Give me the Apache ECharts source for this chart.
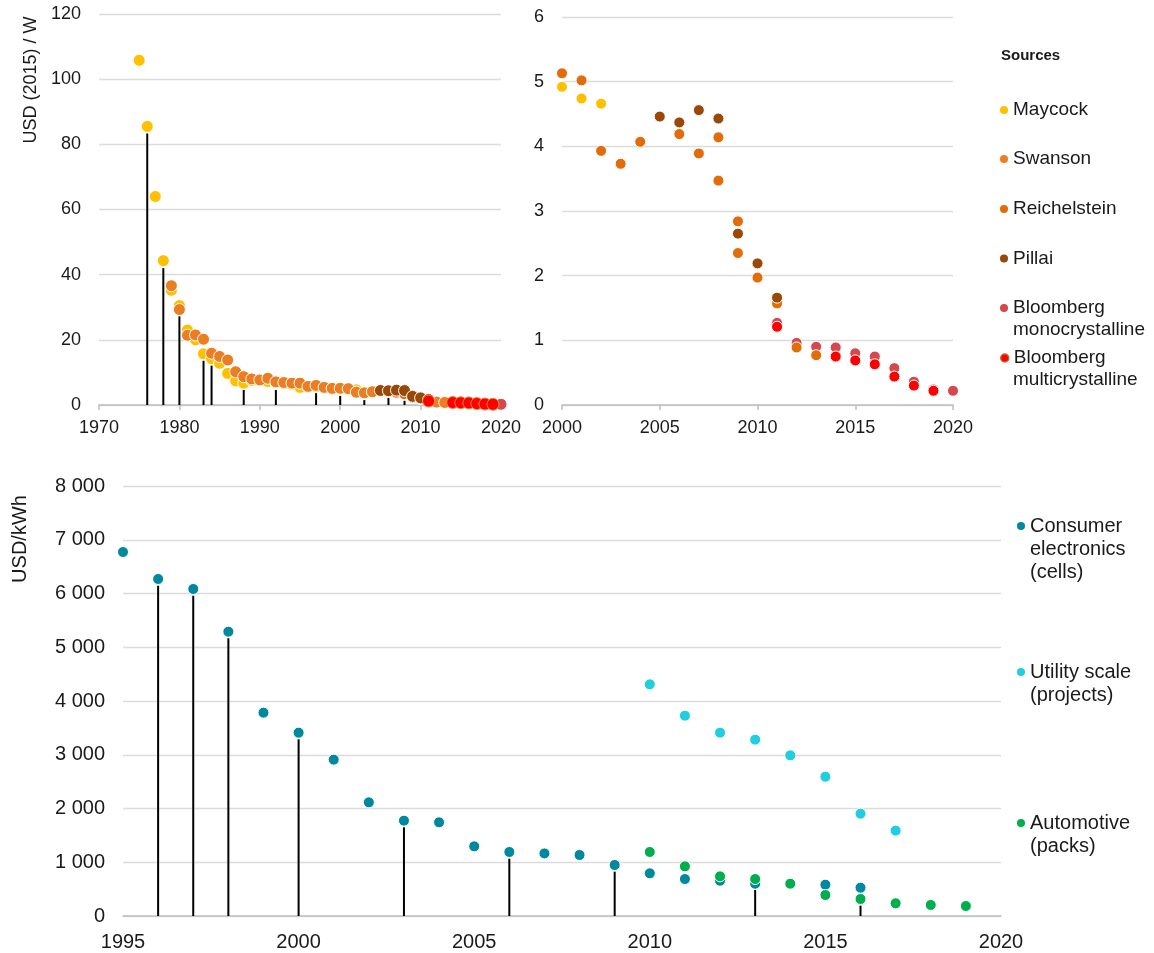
<!DOCTYPE html>
<html>
<head>
<meta charset="utf-8">
<script src="https://cdn.jsdelivr.net/npm/echarts@6/dist/echarts.min.js"></script>
<style>
  html, body { margin: 0; padding: 0; background: #fff; }
  #chart { width: 1154px; height: 953px; }
</style>
</head>
<body>
<div id="chart"></div>
<script>
// PV module prices, USD (2015) / W
const maycockYears = [1975, 1976, 1977, 1978, 1979, 1980, 1981, 1982, 1983, 1984, 1985, 1986, 1987, 1988,
  1989, 1990, 1991, 1992, 1993, 1994, 1995, 1996, 1997, 1998, 1999, 2000, 2001, 2002]
const maycockValues = [105.8, 85.5, 64.0, 44.3, 35.2, 30.5, 23.0, 20.0, 15.7, 14.2, 12.8, 9.7, 7.4, 6.7,
  7.5, 7.7, 7.2, 6.8, 6.5, 6.3, 5.4, 5.5, 5.6, 5.3, 5.0, 4.92, 4.74, 4.66]

const swansonYears = [1979, 1980, 1981, 1982, 1983, 1984, 1985, 1986, 1987, 1988, 1989, 1990, 1991, 1992,
  1993, 1994, 1995, 1996, 1997, 1998, 1999, 2000, 2001, 2002, 2003, 2004, 2006, 2007, 2008, 2009,
  2010, 2011, 2012, 2013]
const swansonValues = [36.6, 29.3, 21.4, 21.5, 20.2, 15.9, 14.9, 13.8, 10.2, 8.7, 8.0, 7.7, 8.2, 7.1,
  6.9, 6.7, 6.7, 5.7, 6.0, 5.4, 5.1, 5.13, 5.02, 3.93, 3.73, 4.07, 4.19, 3.89, 4.14, 2.84,
  1.97, 1.57, 0.89, 0.77]

const reichelsteinYears = [2008, 2009]
const reichelsteinValues = [3.47, 2.35]

const pillaiYears = [2005, 2006, 2007, 2008, 2009, 2010, 2011]
const pillaiValues = [4.46, 4.37, 4.56, 4.43, 2.65, 2.19, 1.66]

const monoYears = [2011, 2012, 2013, 2014, 2015, 2016, 2017, 2018, 2019, 2020]
const monoValues = [1.27, 0.96, 0.90, 0.89, 0.80, 0.75, 0.57, 0.36, 0.24, 0.22]

const multiYears = [2011, 2014, 2015, 2016, 2017, 2018, 2019]
const multiValues = [1.21, 0.75, 0.69, 0.63, 0.44, 0.30, 0.22]

// black drop lines in the top-left panel
const pvStemYears = [1976, 1978, 1980, 1983, 1984, 1988, 1992, 1997, 2000, 2003, 2006, 2008]
const pvStemValues = [83.3, 42, 27.2, 13.6, 12.1, 4.6, 4.6, 3.9, 2.8, 1.5, 2.2, 1.3]

// battery prices, USD/kWh
const consumerYears = [1995, 1996, 1997, 1998, 1999, 2000, 2001, 2002, 2003, 2004, 2005, 2006, 2007,
  2008, 2009, 2010, 2011, 2012, 2013, 2015, 2016]
const consumerValues = [6772, 6270, 6084, 5290, 3783, 3411, 2909, 2115, 1774, 1743, 1296, 1191, 1165,
  1135, 949, 794, 688, 656, 601, 583, 527]

const utilityYears = [2010, 2011, 2012, 2013, 2014, 2015, 2016, 2017]
const utilityValues = [4310, 3727, 3411, 3281, 2989, 2592, 1904, 1588]

const automotiveYears = [2010, 2011, 2012, 2013, 2014, 2015, 2016, 2017, 2018, 2019]
const automotiveValues = [1191, 924, 738, 688, 601, 391, 316, 236, 205, 186]

const batteryStemYears = [1996, 1997, 1998, 2000, 2003, 2006, 2009, 2013, 2016]
const batteryStemValues = [6145, 5959, 5166, 3287, 1650, 1066, 825, 484, 192]

const MONO = 'Bloomberg\nmonocrystalline'
const MULTI = 'Bloomberg\nmulticrystalline'
const CONSUMER = 'Consumer\nelectronics\n(cells)'
const UTILITY = 'Utility scale\n(projects)'
const AUTOMOTIVE = 'Automotive\n(packs)'

const colors = {
  maycock: '#FFC000',
  swanson: '#EB7E22',
  reichelstein: '#E36C0A',
  pillai: '#984807',
  mono: '#D5484E',
  multi: '#FF0000',
  consumer: '#00889E',
  utility: '#20CEE0',
  automotive: '#00AE4D'
}

const FONT = '"Liberation Sans", Arial, sans-serif'
const TEXT = '#1a1a1a'

function pairs(xs, ys) {
  return xs.map((x, i) => [x, ys[i]])
}

function xAxisCfg(gridIndex, min, max, interval, fontSize, showTicks, margin) {
  return {
    type: 'value',
    gridIndex: gridIndex,
    min: min,
    max: max,
    interval: interval,
    splitLine: { show: false },
    axisLine: { show: true, onZero: false, lineStyle: { color: '#bfbfbf', width: 1.5 } },
    axisTick: { show: showTicks, length: 5, lineStyle: { color: '#bfbfbf', width: 1.5 } },
    axisLabel: { color: TEXT, fontSize: fontSize, fontFamily: FONT, margin: margin, formatter: v => String(v) }
  }
}

function yAxisCfg(gridIndex, max, interval, fontSize, formatter) {
  return {
    type: 'value',
    gridIndex: gridIndex,
    min: 0,
    max: max,
    interval: interval,
    axisLine: { show: false },
    axisTick: { show: false },
    splitLine: { lineStyle: { color: '#dcdcdc', width: 1.3 } },
    axisLabel: { color: TEXT, fontSize: fontSize, fontFamily: FONT, margin: 18, formatter: formatter || (v => String(v)) }
  }
}

function dots(name, data, color, axis, size, border) {
  return {
    name: name,
    type: 'scatter',
    xAxisIndex: axis,
    yAxisIndex: axis,
    data: data,
    symbolSize: size,
    itemStyle: { color: color, borderColor: border || '#fff', borderWidth: 1, opacity: 1 },
    emphasis: { disabled: true },
    z: 3
  }
}

function stems(data, axis) {
  return {
    type: 'bar',
    xAxisIndex: axis,
    yAxisIndex: axis,
    data: data,
    barWidth: 2,
    itemStyle: { color: '#000' },
    emphasis: { disabled: true },
    z: 1
  }
}

// legend entry: marker sits next to the first line, the other lines hang below it
const legends = []
const legendLines = []
function legendItem(name, left, center, fontSize, lineHeight, itemStyle) {
  const lines = name.split('\n')
  legends.push({
    data: [name],
    icon: 'circle',
    left: left,
    top: center - lineHeight / 2,
    padding: 0,
    itemWidth: 8,
    itemHeight: 8,
    selectedMode: false,
    formatter: n => n.split('\n')[0],
    itemStyle: itemStyle || { borderWidth: 0 },
    textStyle: { color: TEXT, fontSize: fontSize, fontFamily: FONT, lineHeight: lineHeight }
  })
  lines.slice(1).forEach((line, i) => {
    legendLines.push({
      type: 'text',
      x: left + 13,
      y: center + (i + 1) * lineHeight,
      style: { text: line, fontSize: fontSize, fontFamily: FONT, fill: TEXT, verticalAlign: 'middle' }
    })
  })
}

legendItem('Maycock', 1000, 110, 19, 22)
legendItem('Swanson', 1000, 159, 19, 22)
legendItem('Reichelstein', 1000, 209, 19, 22)
legendItem('Pillai', 1000, 258.5, 19, 22)
legendItem(MONO, 1000, 308, 19, 22)
legendItem(MULTI, 1000, 358, 19, 22, { borderColor: '#C8642A', borderWidth: 1.5 })
legendItem(CONSUMER, 1017, 526, 20, 23.3)
legendItem(UTILITY, 1017, 672, 20, 23.3)
legendItem(AUTOMOTIVE, 1017, 823, 20, 23.3)

const pvSeries = axis => {
  const size = axis === 0 ? 12 : 11
  const swansonColor = axis === 0 ? colors.swanson : colors.reichelstein
  return [
    dots(MONO, pairs(monoYears, monoValues), colors.mono, axis, size),
    dots('Maycock', pairs(maycockYears, maycockValues), colors.maycock, axis, size),
    dots('Swanson', pairs(swansonYears, swansonValues), swansonColor, axis, size),
    dots('Reichelstein', pairs(reichelsteinYears, reichelsteinValues), colors.reichelstein, axis, size),
    dots('Pillai', pairs(pillaiYears, pillaiValues), colors.pillai, axis, size),
    dots(MULTI, pairs(multiYears, multiValues), colors.multi, axis, size, axis === 0 ? '#E98A3C' : '#fff')
  ]
}

const chart = echarts.init(document.getElementById('chart'), null, { renderer: 'canvas' })

chart.setOption({
  animation: false,
  backgroundColor: '#fff',
  textStyle: { fontFamily: FONT },
  title: {
    text: 'Sources',
    left: 1001,
    top: 48,
    padding: 0,
    textStyle: { fontSize: 15, fontWeight: 'bold', color: TEXT, fontFamily: FONT }
  },
  grid: [
    { left: 99, top: 14, width: 402, height: 391 },
    { left: 562, top: 17, width: 391, height: 388 },
    { left: 123, top: 486, width: 878, height: 430 }
  ],
  xAxis: [
    xAxisCfg(0, 1970, 2020, 10, 18, true, 14),
    xAxisCfg(1, 2000, 2020, 5, 18, true, 14),
    xAxisCfg(2, 1995, 2020, 5, 20, false, 16)
  ],
  yAxis: [
    yAxisCfg(0, 120, 20, 18),
    yAxisCfg(1, 6, 1, 18),
    yAxisCfg(2, 8000, 1000, 20, v => v === 0 ? '0' : (v / 1000) + ' 000')
  ],
  legend: legends,
  graphic: [
    {
      type: 'text',
      x: 31,
      y: 80,
      rotation: Math.PI / 2,
      style: { text: 'USD (2015) / W', fontSize: 18, fontFamily: FONT, fill: TEXT, align: 'center', verticalAlign: 'middle' }
    },
    {
      type: 'text',
      x: 20,
      y: 539,
      rotation: Math.PI / 2,
      style: { text: 'USD/kWh', fontSize: 20, fontFamily: FONT, fill: TEXT, align: 'center', verticalAlign: 'middle' }
    },
    ...legendLines
  ],
  series: [
    stems(pairs(pvStemYears, pvStemValues), 0),
    ...pvSeries(0),
    ...pvSeries(1),
    stems(pairs(batteryStemYears, batteryStemValues), 2),
    dots(CONSUMER, pairs(consumerYears, consumerValues), colors.consumer, 2, 11),
    dots(UTILITY, pairs(utilityYears, utilityValues), colors.utility, 2, 11),
    dots(AUTOMOTIVE, pairs(automotiveYears, automotiveValues), colors.automotive, 2, 11)
  ]
})
</script>
</body>
</html>
